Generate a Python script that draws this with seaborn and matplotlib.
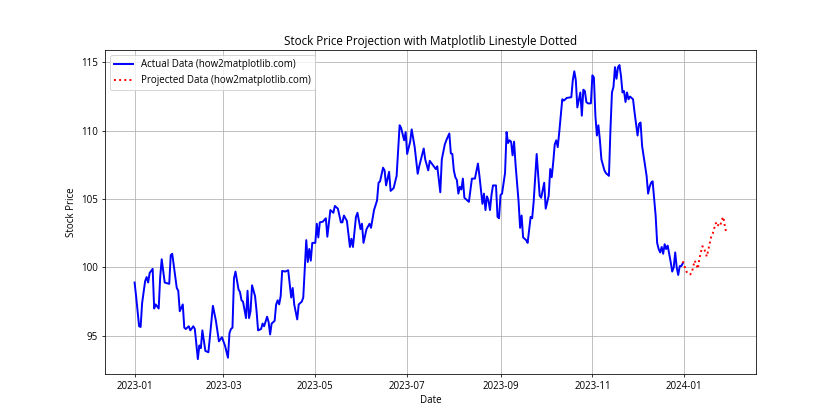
import pandas as pd
import numpy as np
import seaborn as sns
import matplotlib.pyplot as plt

# Datos (día desde 2023-01-01, precio)
actual_days = [0, 1, 3, 4, 5, 7, 8, 9, 10, 12, 13, 14, 16, 17, 18, 20, 23, 24, 25, 28, 29, 30, 32, 33, 34, 36, 37, 39, 40,
               42, 43, 44, 45, 47, 49, 50, 52, 54, 56, 58, 60, 62, 63, 64, 65, 66, 67, 69, 70, 71, 72, 74, 75, 76, 77, 78,
               80, 81, 82, 84, 85, 86, 88, 89, 90, 91, 93, 94, 95, 96, 97, 98, 100, 102, 104, 105, 106, 108, 109, 111, 112,
               114, 115, 116, 117, 118, 120, 121, 122, 123, 125, 127, 128, 130, 132, 133, 135, 137, 138, 139, 141, 143,
               144, 145, 147, 148, 150, 151, 152, 154, 156, 157, 159, 161, 162, 163, 165, 166, 167, 169, 170, 172, 174,
               176, 177, 179, 180, 181, 183, 184, 186, 188, 189, 192, 193, 195, 196, 198, 200, 201, 203, 204, 206, 207,
               209, 210, 211, 212, 213, 214, 215, 216, 217, 218, 219, 220, 222, 224, 226, 228, 229, 231, 232, 233, 234,
               235, 236, 237, 238, 240, 241, 242, 243, 244, 246, 247, 248, 249, 250, 251, 252, 253, 255, 256, 257, 258,
               260, 261, 263, 264, 265, 267, 268, 269, 270, 272, 273, 275, 276, 277, 278, 279, 280, 281, 282, 284, 285,
               287, 290, 291, 292, 293, 294, 296, 297, 298, 299, 300, 301, 303, 304, 305, 306, 307, 308, 309, 310, 311,
               312, 313, 315, 316, 317, 318, 319, 320, 321, 322, 323, 324, 325, 326, 327, 328, 329, 331, 332, 334, 335,
               336, 337, 339, 340, 341, 342, 343, 344, 346, 347, 348, 349, 350, 351, 352, 353, 354, 356, 357, 358, 359,
               360, 361, 362, 363, 364]
actual_prices = [98.9, 97.9, 95.7, 95.65, 97.4, 99.0, 99.3, 98.9, 99.6, 99.9, 97.0, 97.3, 97.0, 99.3, 100.6, 98.9, 98.8,
                 100.9, 101.0, 98.5, 98.3, 96.8, 97.3, 95.6, 95.5, 95.7, 95.4, 95.7, 95.5,
                 93.3, 94.3, 94.1, 95.4, 93.9, 93.8, 94.9, 97.2, 96.1, 94.6, 94.9, 94.3, 93.4, 95.2, 95.5, 95.6, 99.2,
                 99.7, 98.4, 98.2, 97.6, 97.5, 96.3, 98.3, 96.3, 96.8, 98.7,
                 97.9, 96.8, 95.4, 95.5, 95.9, 95.7, 96.4, 96.0, 95.1, 95.9, 96.1, 97.3, 97.6, 97.3, 97.9, 99.75, 99.7,
                 99.8, 97.8, 98.5, 97.3, 96.2, 97.3, 97.5, 97.8,
                 102.0, 100.4, 101.35, 100.5, 101.8, 101.8, 103.2, 102.2, 103.3, 103.35, 103.6, 102.25, 104.2, 104.0,
                 104.5, 104.3, 103.3, 103.3, 103.8, 103.4, 101.5,
                 102.1, 101.5, 103.7, 104.0, 102.8, 103.2, 101.8, 102.8, 103.2, 102.9, 104.2, 104.9, 106.2, 106.3,
                 107.3, 107.1, 106.0, 107.0, 105.6, 105.8, 106.7,
                 110.4, 110.2, 109.3, 109.9, 108.3, 109.2, 110.1, 108.8, 106.85, 107.4, 108.7, 107.9, 107.1, 107.8,
                 107.5, 107.2, 107.4, 105.5, 107.9, 109.0, 109.3,
                 109.8, 108.35, 108.3, 107.1, 106.6, 106.4, 105.4, 105.9, 105.7, 106.5, 105.1, 105.0, 104.8, 106.5,
                 106.5, 107.6, 106.7, 104.65, 105.4, 104.2, 105.2,
                 104.9, 104.2, 105.3, 106.0, 106.0, 103.7, 103.6, 105.3, 105.4, 106.9, 109.9, 109.1, 109.3, 109.2,
                 108.2, 109.2, 107.5, 104.8, 102.9, 103.8, 102.2,
                 102.0, 101.8, 103.7, 103.6, 104.8, 108.3, 106.8, 105.25, 105.1, 106.2, 104.3, 105.25, 107.2, 106.6,
                 107.7, 109.0, 109.3, 108.8, 109.9, 112.3, 112.2,
                 112.4, 112.45, 113.7, 114.35, 113.7, 111.7, 112.8, 111.1, 113.0, 112.9, 112.1, 112.0, 112.0, 114.05,
                 113.9, 111.1, 109.65, 110.4, 109.3, 107.9, 107.5,
                 107.1, 106.9, 106.7, 110.1, 112.8, 113.2, 114.65, 113.8, 114.65, 114.8, 114.0, 112.8, 112.9, 112.1,
                 112.8, 112.3, 112.5, 112.3, 111.35, 109.65, 110.5,
                 110.6, 108.9, 107.45, 106.7, 105.4, 105.9, 106.2, 106.3, 103.8, 101.8, 101.35, 101.1, 101.5, 101.0,
                 101.7, 101.35, 101.6, 100.4, 99.7, 100.0, 101.1,
                 100.0, 99.45, 100.1, 100.1, 100.3]

# Proyección: 30 días desde 2023-12-31
projected_prices = [100.45, 100.2, 99.8, 99.6, 99.5, 99.5, 99.6, 100.1, 100.5, 100.2,
                    99.9, 100.6, 101.1, 101.55, 101.5, 101.1, 100.8, 101.3, 101.8, 102.3,
                    102.5, 102.9, 103.25, 103.0, 103.2, 103.1, 103.5, 103.7, 103.0, 102.5]

actual_dates = pd.Timestamp('2023-01-01') + pd.to_timedelta(actual_days, unit='D')
projected_dates = pd.date_range(start='2023-12-31', periods=len(projected_prices), freq='D')

plt.rcParams['font.family'] = ['Open Sans', 'DejaVu Sans']
plt.rcParams['font.size'] = 10

fig, ax = plt.subplots(figsize=(12, 6), dpi=70)
sns.lineplot(x=actual_dates, y=actual_prices, color='blue', linewidth=2,
             label='Actual Data (how2matplotlib.com)', ax=ax)
sns.lineplot(x=projected_dates, y=projected_prices, color='red', linewidth=2, linestyle=':',
             label='Projected Data (how2matplotlib.com)', ax=ax)

ax.set_title('Stock Price Projection with Matplotlib Linestyle Dotted')
ax.set_xlabel('Date')
ax.set_ylabel('Stock Price')
ax.grid(True)
ax.legend(loc='upper left')

fig.savefig('out.png', dpi=70)
